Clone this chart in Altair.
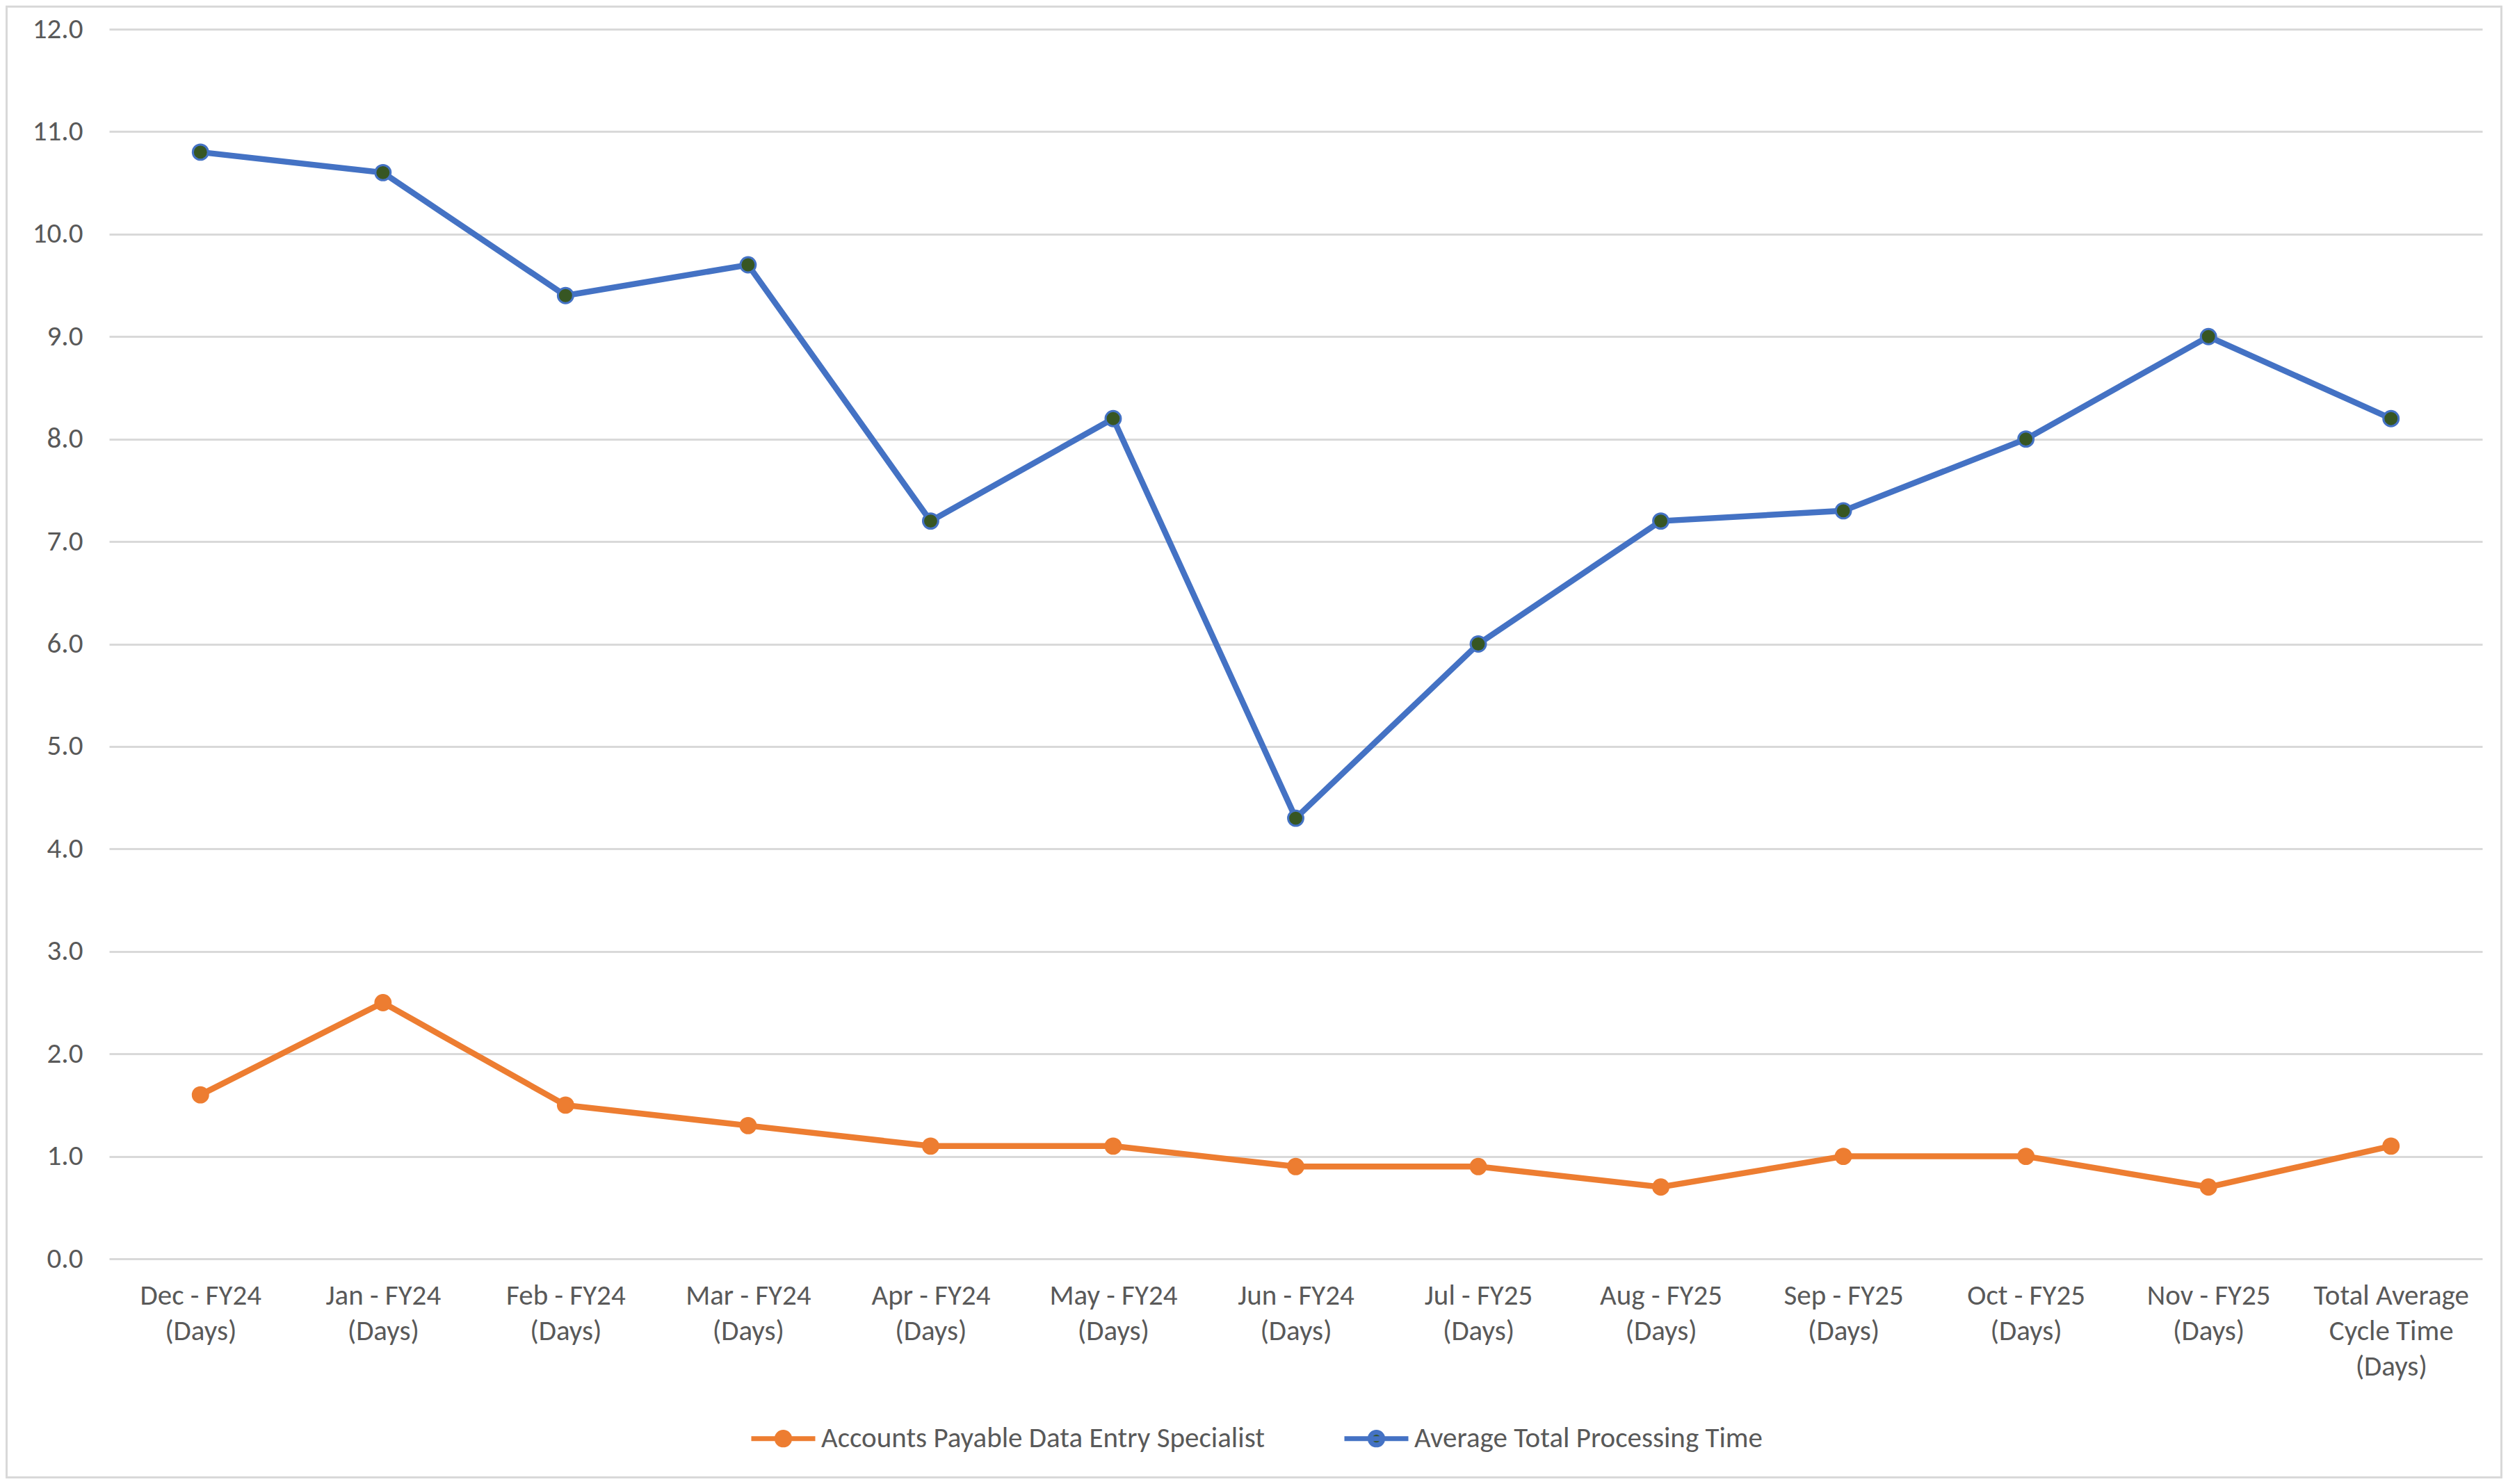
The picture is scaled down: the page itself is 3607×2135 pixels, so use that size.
import altair as alt
import pandas as pd

categories = [
    "Dec - FY24 (Days)", "Jan - FY24 (Days)", "Feb - FY24 (Days)", "Mar - FY24 (Days)",
    "Apr - FY24 (Days)", "May - FY24 (Days)", "Jun - FY24 (Days)", "Jul - FY25 (Days)",
    "Aug - FY25 (Days)", "Sep - FY25 (Days)", "Oct - FY25 (Days)", "Nov - FY25 (Days)",
    "Total Average Cycle Time (Days)",
]
ap_specialist = [1.6, 2.5, 1.5, 1.3, 1.1, 1.1, 0.9, 0.9, 0.7, 1.0, 1.0, 0.7, 1.1]
avg_total = [10.8, 10.6, 9.4, 9.7, 7.2, 8.2, 4.3, 6.0, 7.2, 7.3, 8.0, 9.0, 8.2]
series_names = ["Accounts Payable Data Entry Specialist", "Average Total Processing Time"]
y_ticks = list(range(0, 13))

ORANGE = "#ED7D31"
BLUE = "#4472C4"
GREEN = "#375623"
GRID = "#D9D9D9"
TEXT = "#595959"
FONT = "Carlito, Calibri, 'Liberation Sans Narrow', 'Open Sans', sans-serif"

rows = []
for c, v in zip(categories, ap_specialist):
    rows.append({"category": c, "value": v, "series": series_names[0]})
for c, v in zip(categories, avg_total):
    rows.append({"category": c, "value": v, "series": series_names[1]})
df = pd.DataFrame(rows)

W, H = 3413, 1769
PAD = {"left": 149, "top": 34, "right": 29, "bottom": 316}

label_expr = (
    "datum.label == 'Total Average Cycle Time (Days)' ? ['Total Average', 'Cycle Time', '(Days)'] : "
    "split(replace(datum.label, ' (Days)', '|(Days)'), '|')"
)

x_enc = alt.X(
    "category:N", sort=categories,
    scale=alt.Scale(type="point", padding=0.5),
    axis=alt.Axis(
        title=None, labelExpr=label_expr, labelAngle=0, labelFontSize=41,
        labelColor=TEXT, labelFont=FONT, ticks=False, domain=False, grid=False,
        labelPadding=33, labelLineHeight=51, labelLimit=600, labelBaseline="top",
    ),
)
y_enc = alt.Y(
    "value:Q",
    scale=alt.Scale(domain=[0, 12], nice=False),
    axis=alt.Axis(
        title=None, values=y_ticks, format=".1f", grid=True, gridColor=GRID,
        gridWidth=3, domain=False, ticks=False, labelFontSize=41,
        labelColor=TEXT, labelFont=FONT, labelPadding=38,
    ),
)

legend_path = "M-1,0L1,0M-0.2,0A0.2,0.2,0,1,1,0.2,0A0.2,0.2,0,1,1,-0.2,0Z"
legend = alt.Legend(
    title=None, orient="none", legendX=920, legendY=1978, direction="horizontal",
    symbolType=legend_path, symbolSize=8464, symbolStrokeWidth=7,
    labelFontSize=41, labelColor=TEXT, labelFont=FONT, labelLimit=2000,
    labelOffset=5, columnPadding=100, padding=0,
)

stroke_scale = alt.Scale(domain=series_names, range=[ORANGE, BLUE])
fill_scale = alt.Scale(domain=series_names, range=[ORANGE, GREEN])

border = alt.Chart(pd.DataFrame({"k": [0]})).mark_rect(
    fillOpacity=0, stroke=GRID, strokeWidth=3
).encode(
    x=alt.value(-PAD["left"] + 1.5), x2=alt.value(W + PAD["right"] - 1.5),
    y=alt.value(-PAD["top"] + 1.5), y2=alt.value(H + PAD["bottom"] - 1.5),
)

# legend carrier (zero-size points) placed first so its filled symbols win the merge
legend_points = alt.Chart(df).mark_point(filled=True, size=0, opacity=1, shape="circle").encode(
    x=x_enc, y=y_enc,
    stroke=alt.Stroke("series:N", scale=stroke_scale, legend=legend),
    fill=alt.Fill("series:N", scale=fill_scale, legend=legend),
)

lines = alt.Chart(df).mark_line(strokeWidth=8.5).encode(
    x=x_enc, y=y_enc,
    stroke=alt.Stroke("series:N", scale=stroke_scale, legend=legend),
    detail="series:N",
)

points = alt.Chart(df).mark_point(filled=True, size=480, strokeWidth=3, opacity=1, shape="circle").encode(
    x=x_enc, y=y_enc,
    stroke=alt.Stroke("series:N", scale=stroke_scale, legend=legend),
    fill=alt.Fill("series:N", scale=fill_scale, legend=legend),
)

chart = alt.layer(border, legend_points, lines, points).properties(
    width=W, height=H,
    autosize=alt.AutoSizeParams(type="none"),
    padding=PAD,
    background="white",
).configure_view(stroke=None)

chart.save("out.html", embed_options={"renderer": "svg", "actions": False})
